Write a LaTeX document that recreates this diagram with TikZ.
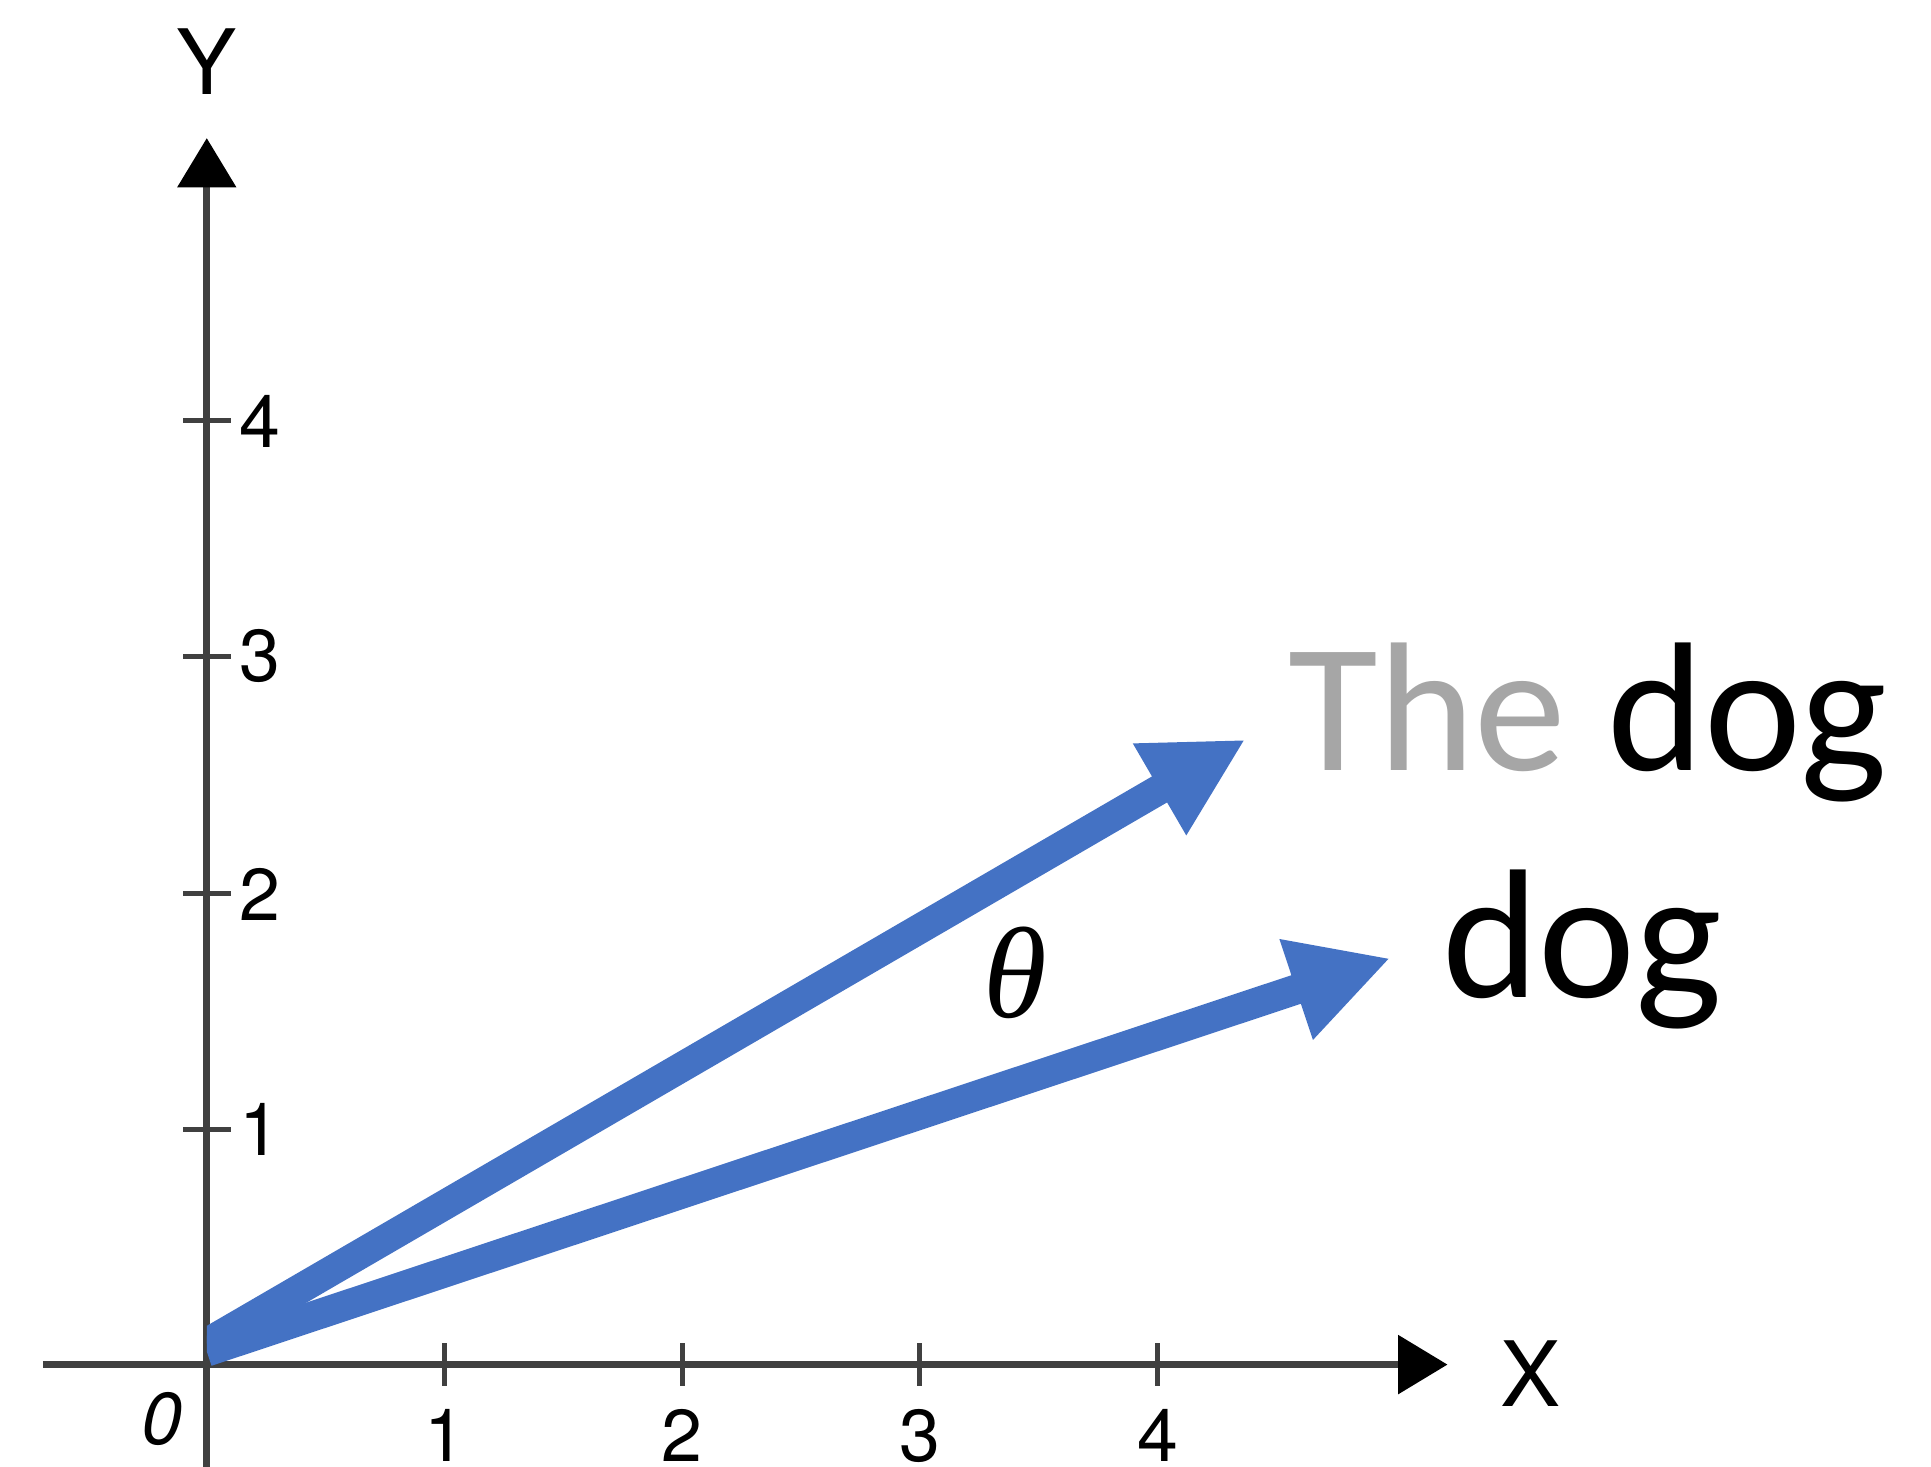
\documentclass[tikz,border=0pt]{standalone}
\usepackage{fontspec}
\setmainfont{TeX Gyre Heros}
\newfontfamily\wordfont{Carlito}
\newfontfamily\greekfont{Liberation Serif}
\usetikzlibrary{arrows.meta}
\definecolor{vecblue}{HTML}{4472C4}
\tikzset{
  axisline/.style={draw=black!75,line width=0.8pt,-{Triangle[length=5.9pt,width=6.9pt,black]}},
  tickmark/.style={draw=black!75,line width=0.6pt},
  ticklabel/.style={inner sep=0pt,font=\fontsize{8.8}{9}\selectfont},
  axislabel/.style={inner sep=0pt,font=\fontsize{10.8}{11}\selectfont},
  wordlabel/.style={anchor=base west,inner sep=0pt,font=\wordfont\fontsize{22}{22}\selectfont},
  vec/.style={draw=vecblue,line width=3.6pt,-{Triangle[length=11.9pt,width=11.8pt]}}
}

\begin{document}
\begin{tikzpicture}[scale=1]
\useasboundingbox (-0.870,-0.430) rectangle (7.254,5.741);

% Axes
\coordinate (xstart) at (-0.69,0);
\coordinate (xend) at (5.22,0);
\coordinate (ystart) at (0,-0.43);
\coordinate (yend) at (0,5.16);
\draw[axisline] (xstart)--(xend);
\draw[axisline] (ystart)--(yend);
\node[axislabel] (xlab) at (5.57,-0.04){X};
\node[axislabel] (ylab) at (0,5.48){Y};
\node[ticklabel] (origin) at (-0.19,-0.23){\itshape 0};

% Ticks on X
\draw[tickmark] (1,-0.09)--(1,0.09);
\draw[tickmark] (2,-0.09)--(2,0.09);
\draw[tickmark] (3,-0.09)--(3,0.09);
\draw[tickmark] (4,-0.09)--(4,0.09);
\node[ticklabel,anchor=north] (x1) at (1,-0.18){1};
\node[ticklabel,anchor=north] (x2) at (2,-0.18){2};
\node[ticklabel,anchor=north] (x3) at (3,-0.18){3};
\node[ticklabel,anchor=north] (x4) at (4,-0.18){4};

% Ticks on Y
\draw[tickmark] (-0.1,0.99)--(0.1,0.99);
\draw[tickmark] (-0.1,1.98)--(0.1,1.98);
\draw[tickmark] (-0.1,2.98)--(0.1,2.98);
\draw[tickmark] (-0.1,3.97)--(0.1,3.97);
\node[ticklabel,anchor=west] (y1) at (0.13,0.99){1};
\node[ticklabel,anchor=west] (y2) at (0.13,1.98){2};
\node[ticklabel,anchor=west] (y3) at (0.13,2.98){3};
\node[ticklabel,anchor=west] (y4) at (0.13,3.97){4};

% Word vectors
\coordinate (thestart) at (0,0.09);
\coordinate (thetip) at (4.37,2.63);
\coordinate (dogstart) at (0,0.055);
\coordinate (dogtip) at (4.98,1.71);
\begin{scope}
\clip (0,-0.43) rectangle (7.25,5.74);
\draw[vec] (thestart)--(thetip);
\draw[vec] (dogstart)--(dogtip);
\end{scope}

% Labels of the vectors
\node[wordlabel] (thedog) at (4.544,2.50){\textcolor{black!35}{The} dog};
\node[wordlabel] (dog) at (5.19,1.544){dog};

% Angle between them
\node[inner sep=0pt] (theta) at (3.40,1.65){\greekfont\fontsize{15.5}{16}\selectfont\itshape θ};

\end{tikzpicture}
\end{document}
